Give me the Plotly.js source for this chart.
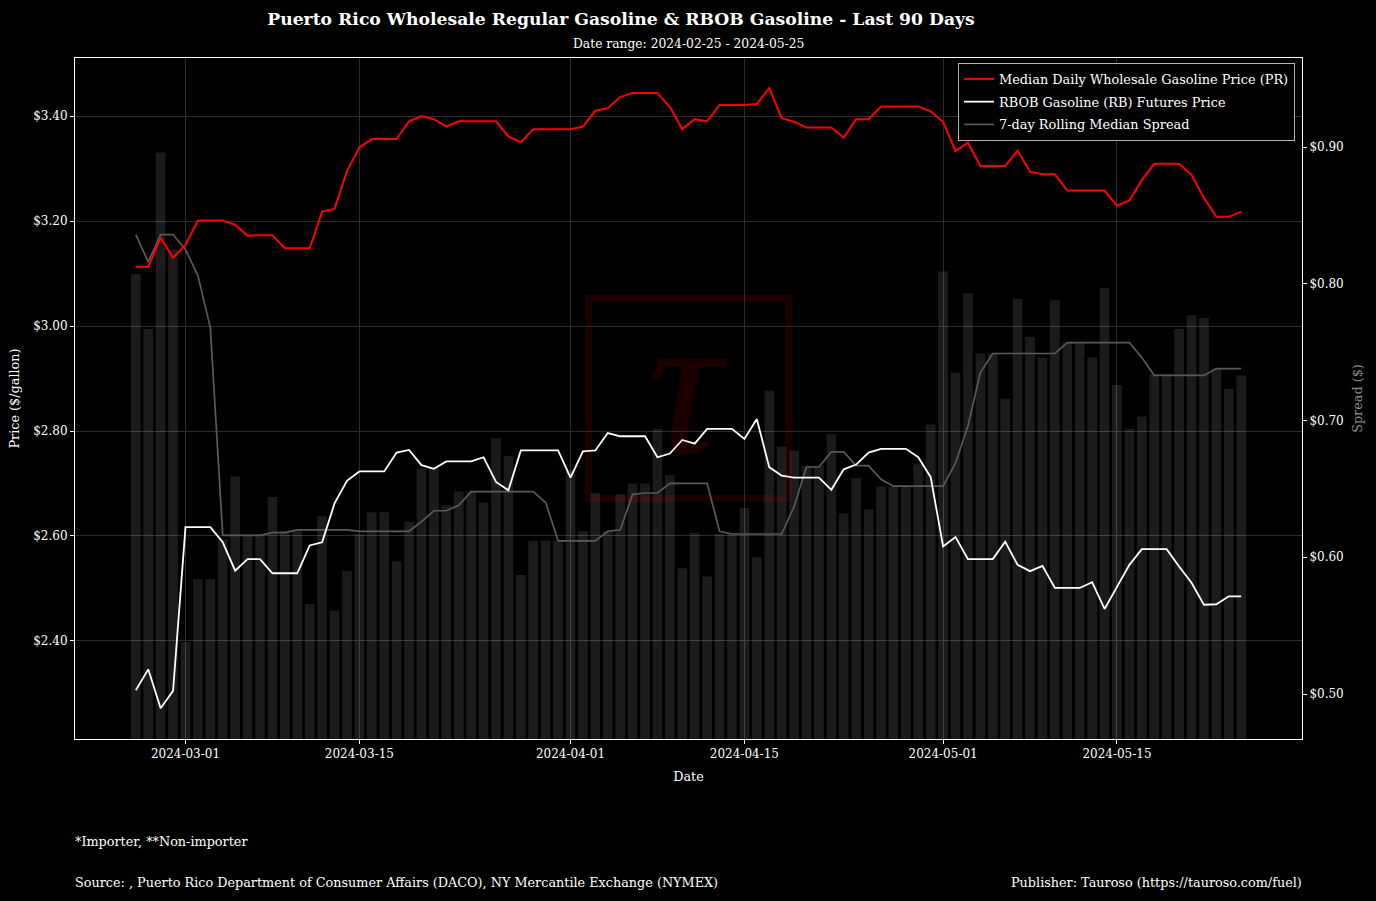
<!DOCTYPE html>
<html><head><meta charset="utf-8">
<script src="https://cdn.plot.ly/plotly-3.0.1.min.js"></script>
<style>html,body{margin:0;padding:0;background:#000;} #chart{width:1376px;height:901px;}</style>
</head><body><div id="chart"></div>
<script>
const dates = [
"2024-02-26","2024-02-27","2024-02-28","2024-02-29",
"2024-03-01","2024-03-02","2024-03-03","2024-03-04","2024-03-05","2024-03-06","2024-03-07","2024-03-08","2024-03-09","2024-03-10",
"2024-03-11","2024-03-12","2024-03-13","2024-03-14","2024-03-15","2024-03-16","2024-03-17","2024-03-18","2024-03-19","2024-03-20",
"2024-03-21","2024-03-22","2024-03-23","2024-03-24","2024-03-25","2024-03-26","2024-03-27","2024-03-28","2024-03-29","2024-03-30","2024-03-31",
"2024-04-01","2024-04-02","2024-04-03","2024-04-04","2024-04-05","2024-04-06","2024-04-07","2024-04-08","2024-04-09","2024-04-10",
"2024-04-11","2024-04-12","2024-04-13","2024-04-14","2024-04-15","2024-04-16","2024-04-17","2024-04-18","2024-04-19","2024-04-20",
"2024-04-21","2024-04-22","2024-04-23","2024-04-24","2024-04-25","2024-04-26","2024-04-27","2024-04-28","2024-04-29","2024-04-30",
"2024-05-01","2024-05-02","2024-05-03","2024-05-04","2024-05-05","2024-05-06","2024-05-07","2024-05-08","2024-05-09","2024-05-10",
"2024-05-11","2024-05-12","2024-05-13","2024-05-14","2024-05-15","2024-05-16","2024-05-17","2024-05-18","2024-05-19","2024-05-20",
"2024-05-21","2024-05-22","2024-05-23","2024-05-24","2024-05-25"];

const prPrice = [
3.113,3.113,3.168,3.130,
3.155,3.201,3.201,3.201,3.193,3.172,3.173,3.173,3.148,3.148,
3.148,3.218,3.223,3.295,3.340,3.356,3.356,3.356,3.390,3.400,
3.394,3.380,3.390,3.390,3.390,3.390,3.361,3.350,3.375,3.375,3.375,
3.375,3.380,3.410,3.415,3.436,3.444,3.444,3.444,3.417,3.375,
3.394,3.390,3.421,3.421,3.421,3.423,3.453,3.396,3.389,3.378,
3.378,3.378,3.359,3.394,3.394,3.418,3.418,3.418,3.418,3.409,
3.389,3.333,3.349,3.305,3.305,3.305,3.334,3.294,3.289,3.289,
3.258,3.258,3.258,3.258,3.229,3.239,3.278,3.309,3.309,3.309,
3.288,3.244,3.208,3.208,3.218];

const rbPrice = [
2.306,2.346,2.272,2.305,
2.617,2.617,2.617,2.588,2.534,2.556,2.556,2.529,2.529,2.529,
2.582,2.588,2.662,2.705,2.723,2.723,2.723,2.759,2.764,2.735,
2.728,2.742,2.742,2.742,2.750,2.703,2.687,2.763,2.763,2.763,2.763,
2.711,2.761,2.763,2.796,2.790,2.790,2.790,2.750,2.757,2.783,
2.776,2.804,2.804,2.804,2.785,2.823,2.731,2.715,2.711,2.711,
2.711,2.688,2.727,2.736,2.759,2.766,2.766,2.766,2.750,2.712,
2.580,2.598,2.556,2.556,2.556,2.589,2.545,2.533,2.543,2.501,
2.501,2.501,2.512,2.461,2.503,2.545,2.575,2.575,2.575,2.542,
2.511,2.469,2.470,2.485,2.485];

const spread = [
0.807,0.767,0.896,0.825,
0.538,0.584,0.584,0.613,0.659,0.616,0.617,0.644,0.619,0.619,
0.566,0.630,0.561,0.590,0.617,0.633,0.633,0.597,0.626,0.665,
0.666,0.638,0.648,0.648,0.640,0.687,0.674,0.587,0.612,0.612,0.612,
0.664,0.619,0.647,0.619,0.646,0.654,0.654,0.694,0.660,0.592,
0.618,0.586,0.617,0.617,0.636,0.600,0.722,0.681,0.678,0.667,
0.667,0.690,0.632,0.658,0.635,0.652,0.652,0.652,0.668,0.697,
0.809,0.735,0.793,0.749,0.749,0.716,0.789,0.761,0.746,0.788,
0.757,0.757,0.746,0.797,0.726,0.694,0.703,0.734,0.734,0.767,
0.777,0.775,0.738,0.723,0.733];

const spreadMedian7 = [
0.836,0.816,0.836,0.836,
0.825,0.806,0.768,0.616,0.616,0.616,0.616,0.618,0.618,0.620,
0.620,0.620,0.620,0.620,0.619,0.619,0.619,0.619,0.619,0.626,
0.634,0.634,0.638,0.648,0.648,0.648,0.648,0.648,0.648,0.640,0.612,
0.612,0.612,0.612,0.619,0.620,0.646,0.647,0.647,0.654,0.654,
0.654,0.654,0.619,0.617,0.617,0.617,0.617,0.617,0.637,0.666,
0.666,0.677,0.677,0.667,0.667,0.657,0.652,0.652,0.652,0.652,
0.652,0.669,0.696,0.735,0.749,0.749,0.749,0.749,0.749,0.749,
0.757,0.757,0.757,0.757,0.757,0.757,0.746,0.733,0.733,0.733,
0.733,0.733,0.738,0.738,0.738];

const xTickVals = ["2024-03-01","2024-03-15","2024-04-01","2024-04-15","2024-05-01","2024-05-15"];
const xTickText = ["2024-03-01","2024-03-15","2024-04-01","2024-04-15","2024-05-01","2024-05-15"];

const FONT = "DejaVu Serif";
const GRID = "#2c2c2c";
const DAY = 86400000;

const traces = [
  {type:"bar", x:dates, y:spread, yaxis:"y", xaxis:"x",
   marker:{color:"rgba(255,255,255,0.105)", line:{width:0}}, width:0.78*DAY,
   showlegend:false, hoverinfo:"skip", name:"Spread"},
  {type:"scatter", mode:"lines", x:dates, y:spreadMedian7, yaxis:"y", xaxis:"x",
   line:{color:"#5a5a5a", width:1.7}, name:"7-day Rolling Median Spread",
   legendrank:3, legendgroup:"c"},
  {type:"scatter", mode:"lines", x:dates, y:prPrice, yaxis:"y2", xaxis:"x",
   line:{color:"#ff0000", width:2}, name:"Median Daily Wholesale Gasoline Price (PR)",
   legendrank:1, legendgroup:"a"},
  {type:"scatter", mode:"lines", x:dates, y:rbPrice, yaxis:"y2", xaxis:"x",
   line:{color:"#ffffff", width:1.8}, name:"RBOB Gasoline (RB) Futures Price",
   legendrank:2, legendgroup:"b"}
];

const axisCommon = {
  showline:true, linecolor:"#ffffff", linewidth:1,
  ticks:"outside", ticklen:4, tickcolor:"#ffffff", tickwidth:1,
  tickfont:{family:FONT, size:12, color:"#ffffff"},
  zeroline:false
};

const layout = {
  width:1376, height:901,
  paper_bgcolor:"#000000", plot_bgcolor:"#000000",
  font:{family:FONT, size:12, color:"#ffffff"},
  margin:{l:75, r:74, t:58, b:162, pad:0},
  showlegend:true,
  barmode:"overlay",
  title:{text:"<b>Puerto Rico Wholesale Regular Gasoline & RBOB Gasoline - Last 90 Days</b>",
    font:{family:FONT, size:17.2, color:"#ffffff"},
    xref:"container", yref:"container", x:621/1376, xanchor:"center", y:1-19/901, yanchor:"middle"},
  xaxis:Object.assign({}, axisCommon, {
    type:"date", range:["2024-02-21 02:30","2024-05-29 21:30"],
    tickmode:"array", tickvals:xTickVals, ticktext:xTickText,
    showgrid:true, gridcolor:GRID, gridwidth:1, mirror:true,
    title:{text:"Date", font:{family:FONT, size:12.8, color:"#ffffff"}, standoff:11}
  }),
  yaxis:Object.assign({}, axisCommon, {
    side:"right", range:[0.4671, 0.9651], tick0:0.5, dtick:0.1,
    tickprefix:"$", tickformat:".2f", showgrid:false, mirror:false,
    title:{text:"Spread ($)", font:{family:FONT, size:12.8, color:"#8c8c8c"}, standoff:10}
  }),
  yaxis2:Object.assign({}, axisCommon, {
    overlaying:"y", side:"left", range:[2.2133, 3.5105], tick0:2.4, dtick:0.2,
    tickprefix:"$", tickformat:".2f", showgrid:true, gridcolor:GRID, gridwidth:1,
    title:{text:"Price ($/gallon)", font:{family:FONT, size:12.8, color:"#ffffff"}, standoff:10}
  }),
  legend:{x:(1295-75)/1227, xanchor:"right", y:(739-63)/681, yanchor:"top",
    bgcolor:"rgba(0,0,0,0.85)", bordercolor:"#b4b4b4", borderwidth:1,
    font:{family:FONT, size:12.9, color:"#ffffff"}, traceorder:"grouped", tracegroupgap:3},
  shapes:[
    {type:"rect", xref:"paper", yref:"paper", layer:"above",
     x0:(588.5-75)/1227, x1:(788.5-75)/1227, y0:(739-498.5)/681, y1:(739-298.5)/681,
     line:{color:"rgba(255,0,0,0.1)", width:7}, fillcolor:"rgba(0,0,0,0)"}
  ],
  annotations:[
    {text:"Date range: 2024-02-25 - 2024-05-25", xref:"paper", yref:"paper",
     x:0.5, y:(739-44)/681, xanchor:"center", yanchor:"middle", showarrow:false,
     font:{family:FONT, size:12.3, color:"#ffffff"}},
    {text:"τ", xref:"paper", yref:"paper", x:(688-75)/1227, y:(739-383)/681,
     xanchor:"center", yanchor:"middle", showarrow:false,
     font:{family:"Liberation Serif", style:"italic", size:205, color:"rgba(255,0,0,0.11)"}},
    {text:"*Importer, **Non-importer", xref:"paper", yref:"paper",
     x:-2/1227, y:(739-841)/681, xanchor:"left", yanchor:"middle", showarrow:false,
     font:{family:FONT, size:12.8, color:"#ffffff"}},
    {text:"Source: , Puerto Rico Department of Consumer Affairs (DACO), NY Mercantile Exchange (NYMEX)",
     xref:"paper", yref:"paper", x:-2/1227, y:(739-882)/681, xanchor:"left", yanchor:"middle", showarrow:false,
     font:{family:FONT, size:12.8, color:"#ffffff"}},
    {text:"Publisher: Tauroso (https://tauroso.com/fuel)", xref:"paper", yref:"paper",
     x:1+2/1227, y:(739-882)/681, xanchor:"right", yanchor:"middle", showarrow:false,
     font:{family:FONT, size:12.8, color:"#ffffff"}}
  ]
};

Plotly.newPlot("chart", traces, layout, {displayModeBar:false, staticPlot:true});
</script>
</body></html>
